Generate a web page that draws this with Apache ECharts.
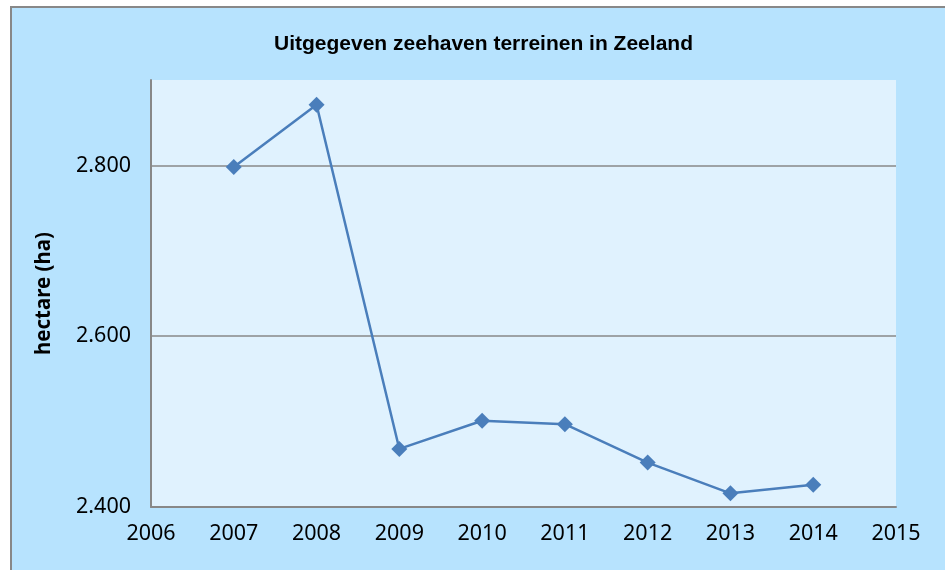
<!DOCTYPE html>
<html>
<head>
<meta charset="utf-8">
<script src="https://cdn.jsdelivr.net/npm/echarts@6/dist/echarts.min.js"></script>
<style>
html,body{margin:0;padding:0;background:#fff;}
#chart{width:945px;height:570px;}
</style>
</head>
<body>
<div id="chart"></div>
<script>
// jaren en uitgegeven hectares
var jaren = [2007, 2008, 2009, 2010, 2011, 2012, 2013, 2014];
var hectares = [2798, 2871, 2468, 2501, 2497, 2452, 2416, 2426];
var yTicks = [2400, 2600, 2800];

init();

function init(){
	var data = [];
	for(var i=0;i<jaren.length;i++){
		data.push([jaren[i], hectares[i]]);
	}
	var myChart = echarts.init(document.getElementById('chart'));
	var option = {
		backgroundColor: '#fff',
		animation: false,
		graphic: [{
			type: 'rect',
			shape: {x: 11, y: 7, width: 980, height: 620},
			style: {fill: '#b7e3fe', stroke: '#888', lineWidth: 2},
			z: -10
		}],
		title: {
			text: 'Uitgegeven zeehaven terreinen in Zeeland',
			left: 269,
			top: 29,
			textStyle: {fontFamily: 'Liberation Sans', fontWeight: 'bold', fontSize: 21, color: '#000'}
		},
		grid: {
			left: 151, right: 49, top: 80, bottom: 63,
			show: true, backgroundColor: '#e0f2fe', borderWidth: 0
		},
		xAxis: {
			type: 'value',
			min: 2006, max: 2015, interval: 1,
			axisLine: {lineStyle: {color: '#888', width: 2}},
			axisTick: {show: false},
			splitLine: {show: false},
			axisLabel: {
				margin: 16,
				fontFamily: 'Noto Sans', fontSize: 21.5, color: '#000',
				formatter: function(val){ return String(val); }
			}
		},
		yAxis: {
			type: 'value',
			min: 2400, max: 2900, interval: 200,
			name: 'hectare (ha)',
			nameLocation: 'middle',
			nameGap: 96,
			nameTextStyle: {fontFamily: 'Noto Sans', fontWeight: 'bold', fontSize: 20.5, color: '#000'},
			axisLine: {show: true, lineStyle: {color: '#888', width: 2}},
			axisTick: {show: false},
			splitLine: {show: true, showMaxLine: false, lineStyle: {color: '#888', width: 1.5}},
			axisLabel: {
				margin: 20,
				fontFamily: 'Noto Sans', fontSize: 21.5, color: '#000',
				formatter: function(val){
					if(yTicks.indexOf(val) < 0) return '';
					return String(val).replace(/(\d)(\d{3})$/, '$1.$2');
				}
			}
		},
		series: [{
			type: 'line',
			data: data,
			symbol: 'diamond',
			symbolSize: 16,
			lineStyle: {color: '#4a7ebb', width: 2.5},
			itemStyle: {color: '#4a7ebb'}
		}]
	};
	myChart.setOption(option);
}
</script>
</body>
</html>
